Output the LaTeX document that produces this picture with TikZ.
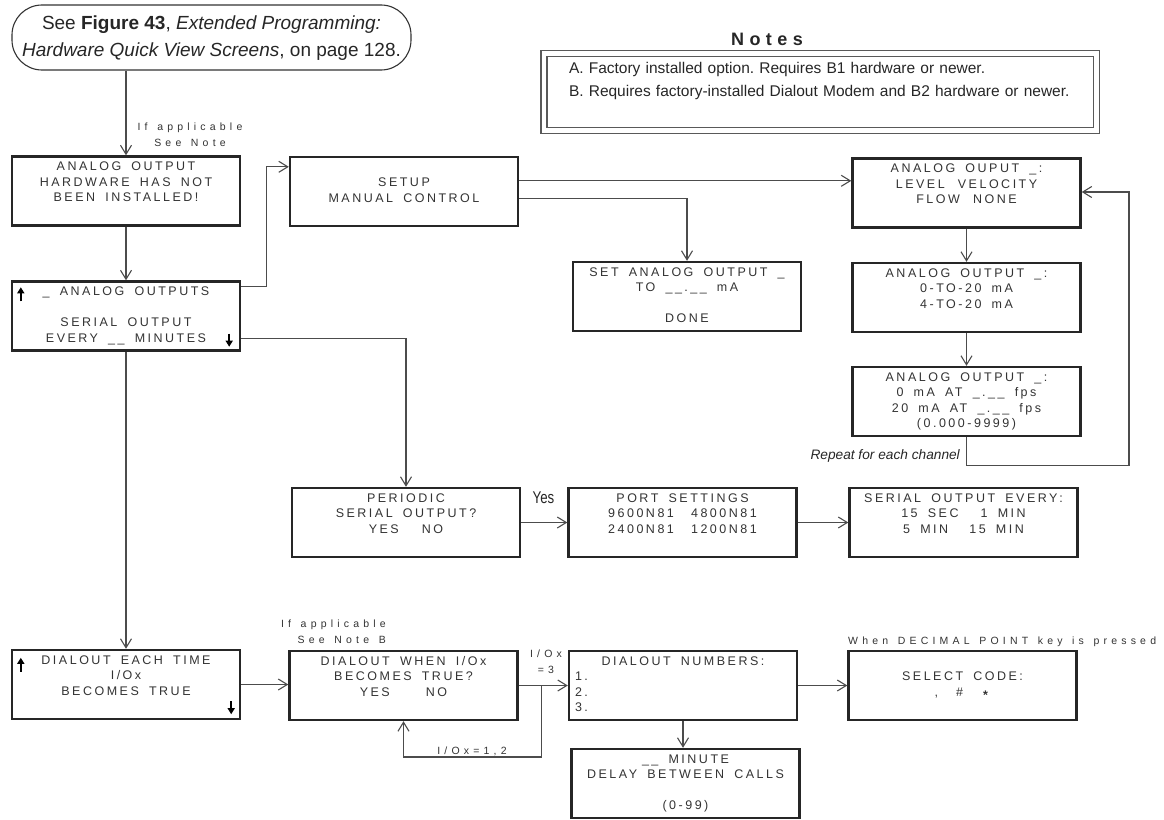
\documentclass[tikz,border=0pt]{standalone}
\usepackage{fontspec}
\setmainfont{Liberation Sans}
\newfontfamily\boxfont[LetterSpace=20,WordSpace=1.7]{Liberation Sans}
\newfontfamily\labfont[LetterSpace=40,WordSpace=1.35]{Liberation Sans}
\newfontfamily\narrowfont[FakeStretch=0.78]{Liberation Sans}
\newfontfamily\headfont[LetterSpace=30]{Liberation Sans}
\usetikzlibrary{arrows.meta,calc}
\newcommand{\four}[4]{\strut #1\\\strut #2\\\strut #3\\\strut #4}
\newcommand{\two}[2]{\strut #1\\\strut #2}
\frenchspacing
\begin{document}
\begin{tikzpicture}[x=1pt,y=-1pt,
  lcd/.style={draw=black!85, line width=2.4pt, minimum width=228pt, minimum height=69pt,
    inner sep=0pt, align=center, text=black!80, font=\boxfont\fontsize{12.5}{15.5}\selectfont},
  arr/.style={draw=black!70, line width=1.1pt, -{Straight Barb[length=9pt,width=11pt]}},
  tri/.style={draw=black, line width=2pt, -{Triangle[length=6pt,width=7pt]}},
  lab/.style={inner sep=0pt, text=black!80, font=\labfont\fontsize{10.5}{15.5}\selectfont},
]
\useasboundingbox (0,0) rectangle (1164,819);

% callout
\node[draw=black!80, line width=1.1pt, rounded corners=30pt, minimum width=399pt,
  minimum height=65pt, align=center, inner sep=0pt, text=black!85,
  font=\fontsize{19}{27}\selectfont] (callout) at (211.5,37.5)
  {\two{See \textbf{Figure 43}, \textit{Extended Programming:}}{\textit{Hardware Quick View Screens}, on page 128.}};

% notes
\node[inner sep=0pt, text=black!85, font=\headfont\bfseries\fontsize{18}{20}\selectfont, anchor=base] (noteshead) at (767,45) {Notes};
\node[draw=black!65, line width=1.1pt, double=white, double distance=4.9pt,
  minimum width=552.5pt, minimum height=77pt, inner xsep=25pt, inner ysep=0pt,
  text width=502.5pt, align=left, text=black!85, font=\fontsize{15.5}{23}\selectfont] (notes) at (820.25,92)
  {\strut A. Factory installed option. Requires B1 hardware or newer.\\\strut B. Requires factory-installed Dialout Modem and B2 hardware or newer.\\\strut};

% boxes
\node[lcd] (b1) at (126,191) {\four{ANALOG OUTPUT}{HARDWARE HAS NOT}{BEEN INSTALLED!}{}};
\node[lcd] (b2) at (126,316) {\four{\_ ANALOG OUTPUTS}{}{SERIAL OUTPUT}{EVERY \_\_ MINUTES}};
\node[lcd] (setup) at (404,191.5) {\four{}{SETUP}{MANUAL CONTROL}{}};
\node[lcd] (setao) at (687,296.5) {\four{SET ANALOG OUTPUT \_}{TO \_\_.\_\_ mA}{}{DONE}};
\node[lcd] (ao1) at (966.5,193) {\four{ANALOG OUPUT \_:}{LEVEL\hspace{3pt} VELOCITY}{FLOW\hspace{3pt} NONE}{}};
\node[lcd] (ao2) at (966.5,297.5) {\four{ANALOG OUTPUT \_:}{0-TO-20 mA}{4-TO-20 mA}{}};
\node[lcd] (ao3) at (966.5,401.5) {\four{ANALOG OUTPUT \_:}{0 mA AT \_.\_\_ fps}{20 mA AT \_.\_\_ fps}{(0.000-9999)}};
\node[lcd] (per) at (406,522.5) {\four{PERIODIC}{SERIAL OUTPUT?}{YES\hspace{13pt} NO}{}};
\node[lcd] (port) at (682.5,522.5) {\four{PORT SETTINGS}{9600N81\hspace{7pt} 4800N81}{2400N81\hspace{7pt} 1200N81}{}};
\node[lcd] (serial) at (963.5,522.5) {\four{SERIAL OUTPUT EVERY:}{15 SEC\hspace{12pt} 1 MIN}{5 MIN\hspace{11pt} 15 MIN}{}};
\node[lcd] (dial1) at (126,684.5) {\four{DIALOUT EACH TIME}{I/Ox}{BECOMES TRUE}{}};
\node[lcd] (dial2) at (403.5,685.5) {\four{DIALOUT WHEN I/Ox}{BECOMES TRUE?}{YES\hspace{26pt} NO}{}};
\node[lcd] (dialnum) at (683,685.5)
  {\strut DIALOUT NUMBERS:\\\makebox[216pt][l]{\strut 1.}\\\makebox[216pt][l]{\strut 2.}\\\makebox[216pt][l]{\strut 3.}};
\node[lcd] (select) at (962.5,685.5) {\four{}{SELECT CODE:}{,\hspace{18pt}\#\hspace{20pt}\raisebox{-3pt}{\textbf{*}}}{}};
\node[lcd] (delay) at (685.5,783.5) {\four{\_\_ MINUTE}{DELAY BETWEEN CALLS}{}{(0-99)}};

% small scroll arrows
\draw[tri] ($(b2.north west)+(10,21)$) -- ++(0,-14);
\draw[tri] ($(b2.south east)+(-12,-18)$) -- ++(0,13);
\draw[tri] ($(dial1.north west)+(10,23)$) -- ++(0,-14);
\draw[tri] ($(dial1.south east)+(-10,-19)$) -- ++(0,13);

% labels
\node[lab, align=center] (l1) at (190,135.6) {\two{If applicable}{See Note}};
\node[lab, align=right, anchor=east] (l2) at (386,632.4) {\two{If applicable}{See Note B}};
\node[lab, align=center] (l3) at (546,662.4) {\two{I/Ox}{=3}};
\node[lab, anchor=base] (l4) at (472,754) {I/Ox=1,2};
\node[lab, anchor=base west] (l5) at (848,644) {When DECIMAL POINT key is pressed};
\node[inner sep=0pt, anchor=base, text=black!85, font=\narrowfont\fontsize{17}{20}\selectfont] (yes) at (543.5,503) {Yes};
\node[inner sep=0pt, anchor=base east, text=black!85, font=\itshape\fontsize{13.7}{16}\selectfont] (rep) at (960,459) {Repeat for each channel};

% connectors
\draw[arr] (callout.south -| b1.north) -- (b1.north);
\draw[arr] (b1.south) -- (b2.north);
\draw[arr] ($(b2.north east)+(0,6)$) -- ++(25,0) |- ($(setup.north west)+(0,11)$);
\draw[arr] ($(setup.north east)+(0,25)$) coordinate (s1) -- (s1 -| ao1.west);
\draw[arr] ($(setup.north east)+(0,43)$) -| (setao.north);
\draw[arr] (ao1.south) -- (ao2.north);
\draw[arr] (ao2.south) -- (ao3.north);
\coordinate (rc) at (1129,192);
\draw[arr] (ao3.south) -- ++(0,28) -| (rc) -- (rc -| ao1.east);
\draw[arr] ($(b2.south east)+(0,-13)$) -| (per.north);
\draw[arr] (per.east) -- (port.west);
\draw[arr] (port.east) -- (serial.west);
\draw[arr] (b2.south) -- (dial1.north);
\draw[arr] (dial1.east) -- (dial1.east -| dial2.west);
\draw[arr] (dial2.east) -- (dialnum.west);
\draw[arr] ($(dial2.east)+(23,0)$) -- ++(0,71.5) -| (dial2.south);
\draw[arr] (dialnum.east) -- (select.west);
\draw[arr] (dialnum.south) -- (dialnum.south |- delay.north);
\end{tikzpicture}
\end{document}
